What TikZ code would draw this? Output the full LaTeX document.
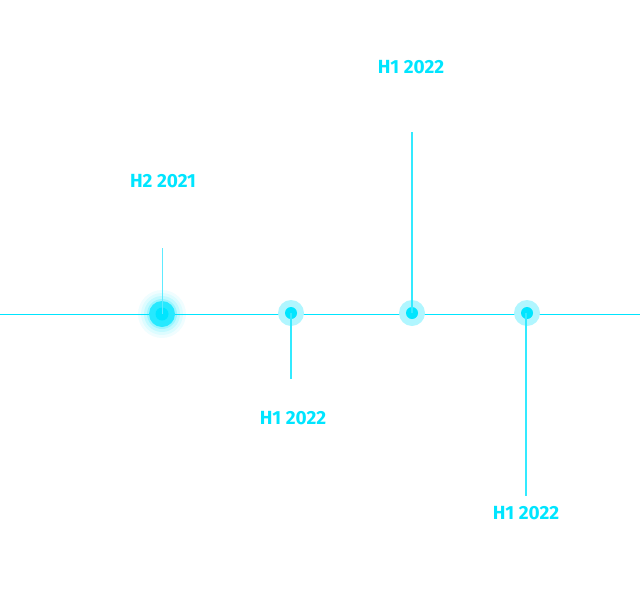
\documentclass[tikz,border=0pt]{standalone}
\usepackage{fontspec}
\setmainfont{Fira Sans}
\definecolor{cy}{HTML}{00E5FF}
\definecolor{cyhalo}{HTML}{B0F6FF}
\definecolor{cythin}{HTML}{5EEBFF}
\begin{document}
\begin{tikzpicture}[x=1pt,y=-1pt,
  lbl/.style={text=cy,font=\fontsize{19}{21}\selectfont\bfseries,inner sep=0pt},
  dot/.style={circle,fill=cy,inner sep=0pt,minimum size=12pt},
  halo/.style={circle,fill=cyhalo,inner sep=0pt,minimum size=26pt},
  stem/.style={draw=cy!80!white,line width=2pt},
  axis/.style={draw=cy,line width=1pt}]
\useasboundingbox (0,0) rectangle (640,600);
% axis
\coordinate (L) at (0,314);
\coordinate (R) at (640,314);
\draw[axis] (L) -- (R);
% node 1 with glow
\foreach \r/\o in {24/0.06,21/0.08,18/0.12,15/0.2}{
  \fill[cy,opacity=\o] (162,314) circle (\r);
}
\node[circle,fill=cy!85!white,inner sep=0pt,minimum size=26pt] (d1) at (162,314) {};
\node[circle,fill=cy,inner sep=0pt,minimum size=13pt] at (162,314) {};
\coordinate (e1) at (162,248);
\draw[draw=cythin,line width=0.9pt] (e1) -- (d1.center);
\node[lbl] (t1) at (163,181) {H2 2021};
% node 2
\node[halo] (h2) at (291,313) {};
\node[dot] (d2) at (291,313) {};
\coordinate (e2) at (291,379);
\draw[stem] (d2.center) -- (e2);
\node[lbl] (t2) at (293,418) {H1 2022};
% node 3
\node[halo] (h3) at (412,313) {};
\node[dot] (d3) at (412,313) {};
\coordinate (e3) at (412,132);
\draw[stem] (e3) -- (d3.center);
\node[lbl] (t3) at (411,67) {H1 2022};
% node 4
\node[halo] (h4) at (527,313) {};
\node[dot] (d4) at (527,313) {};
\coordinate (e4) at (526,496);
\draw[stem] (e4 |- d4.center) -- (e4);
\node[lbl] (t4) at (526,513) {H1 2022};
\end{tikzpicture}
\end{document}
